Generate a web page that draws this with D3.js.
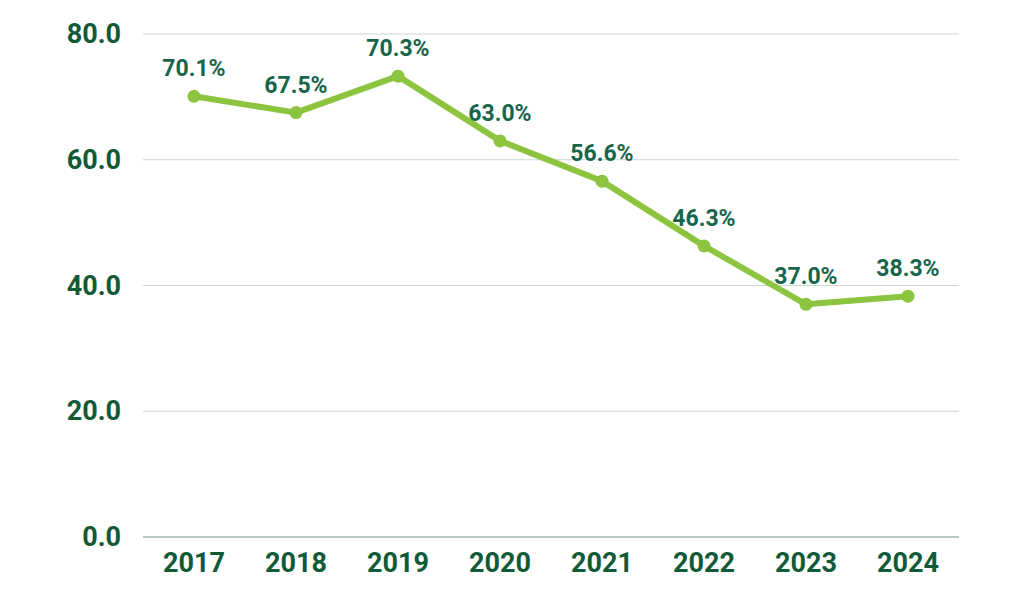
<!DOCTYPE html>
<html>
<head>
<meta charset="utf-8">
<script src="https://cdn.jsdelivr.net/npm/d3@7"></script>
<style>
  body { margin: 0; background: #fff; }
  text { font-family: Roboto, "Noto Sans", sans-serif; font-weight: 700; }
</style>
</head>
<body>
<script>
// data
const years = ["2017", "2018", "2019", "2020", "2021", "2022", "2023", "2024"];
const values = [70.1, 67.5, 73.3, 63.0, 56.6, 46.3, 37.0, 38.3];
const pointLabels = ["70.1%", "67.5%", "70.3%", "63.0%", "56.6%", "46.3%", "37.0%", "38.3%"];
const yTicks = [0, 20, 40, 60, 80];

const margin = { top: 34, right: 50, bottom: 68, left: 143 };
const width = 1009 - margin.left - margin.right;
const height = 605 - margin.top - margin.bottom;

const svg = d3.select("body")
  .append("svg")
  .attr("width", 1009)
  .attr("height", 605)
  .append("g")
  .attr("transform", "translate(" + margin.left + "," + margin.top + ")");

const x = d3.scaleBand()
  .domain(years)
  .range([0, width]);

const y = d3.scaleLinear()
  .domain([0, 80])
  .range([height, 0]);

// gridlines
svg.selectAll(".grid")
  .data(yTicks)
  .enter()
  .append("line")
  .attr("x1", 0)
  .attr("x2", width)
  .attr("y1", d => y(d))
  .attr("y2", d => y(d))
  .attr("stroke", d => d === 0 ? "#6f9288" : "#c8d8d8")
  .attr("stroke-width", 1.2);

// y axis labels
const yAxis = svg.append("g")
  .call(d3.axisLeft(y).tickValues(yTicks).tickFormat(d3.format(".1f")).tickSize(0).tickPadding(22));
yAxis.select(".domain").remove();
yAxis.selectAll("text")
  .attr("fill", "#115a38")
  .style("font-size", "27px");

// x axis labels
const xAxis = svg.append("g")
  .attr("transform", "translate(0," + height + ")")
  .call(d3.axisBottom(x).tickSize(0).tickPadding(16));
xAxis.select(".domain").remove();
xAxis.selectAll("text")
  .attr("fill", "#115a38")
  .style("font-size", "27px");

// line
const line = d3.line()
  .x((d, i) => x(years[i]) + x.bandwidth() / 2)
  .y(d => y(d));

svg.append("path")
  .datum(values)
  .attr("fill", "none")
  .attr("stroke", "#8cc43f")
  .attr("stroke-width", 6)
  .attr("stroke-linejoin", "round")
  .attr("d", line);

svg.selectAll(".dot")
  .data(values)
  .enter()
  .append("circle")
  .attr("cx", (d, i) => x(years[i]) + x.bandwidth() / 2)
  .attr("cy", d => y(d))
  .attr("r", 6.5)
  .attr("fill", "#8cc43f");

svg.selectAll(".label")
  .data(values)
  .enter()
  .append("text")
  .attr("x", (d, i) => x(years[i]) + x.bandwidth() / 2)
  .attr("y", d => y(d) - 20)
  .attr("text-anchor", "middle")
  .attr("fill", "#17654a")
  .style("font-size", "23px")
  .text((d, i) => pointLabels[i]);
</script>
</body>
</html>
